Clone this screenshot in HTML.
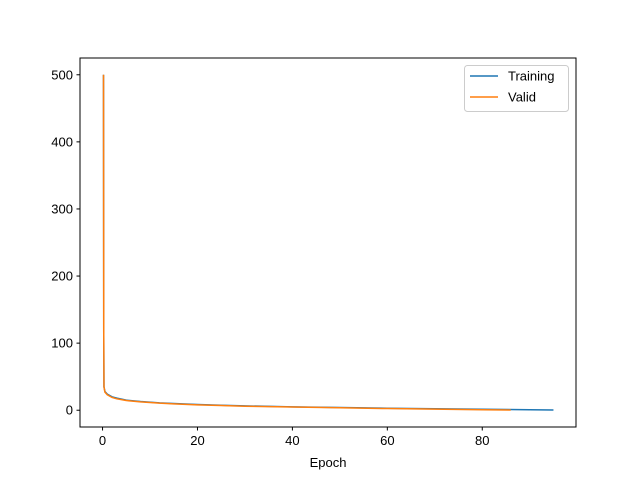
<!DOCTYPE html>
<html><head><meta charset="utf-8"><style>
body{margin:0;background:#fff;}
svg text{font-family:"Liberation Sans","DejaVu Sans",sans-serif;font-size:13px;fill:#000;}
</style></head><body>
<svg id="chart" width="640" height="480">
<rect x="0" y="0" width="640" height="480" fill="#fff"/>
<g id="plot"></g>
<rect x="80" y="58" width="496" height="369" fill="none" stroke="#000" stroke-width="1"/>
<g id="ticks"></g>
<text x="328" y="467" text-anchor="middle">Epoch</text>
<g>
<rect x="464.5" y="65.5" width="104" height="46" rx="3" fill="#fff" fill-opacity="0.8" stroke="#ccc"/>
<line x1="470" y1="76" x2="498" y2="76" stroke="#1f77b4" stroke-width="1.5"/>
<text x="508" y="80.5">Training</text>
<line x1="470" y1="97" x2="498" y2="97" stroke="#ff7f0e" stroke-width="1.5"/>
<text x="508" y="101.5">Valid</text>
</g>
</svg>
<script>
const trainX=[0.2,0.25,0.3,0.5,1,2,3,5,8,12,15,20,25,30,40,50,60,70,80,90,95];
const trainY=[500,120,35,28,24,20,18,15,13,11,10,8.5,7.5,6.5,5,4,3,2.2,1.5,0.7,0.3];
const validX=[0.2,0.25,0.3,0.5,1,2,3,5,8,12,15,20,25,30,40,50,60,70,80,86];
const validY=[500,120,35,27,23,19,17,14.5,12.5,10.5,9.5,8,7,6,4.8,3.6,2.5,1.6,0.8,0.3];
const xTicks=[0,20,40,60,80];
const yTicks=[0,100,200,300,400,500];
const X0=80,X1=576,Y0=427,Y1=58,xmin=-4.75,xmax=99.75,ymin=-25,ymax=525;
const sx=v=>X0+(v-xmin)/(xmax-xmin)*(X1-X0);
const sy=v=>Y0-(v-ymin)/(ymax-ymin)*(Y0-Y1);
const NS="http://www.w3.org/2000/svg";
const plot=document.getElementById('plot'),tk=document.getElementById('ticks');
function line(xs,ys,c,name){const p=document.createElementNS(NS,'polyline');
p.setAttribute('points',xs.map((x,i)=>sx(x)+','+sy(ys[i])).join(' '));
p.setAttribute('fill','none');p.setAttribute('stroke',c);p.setAttribute('stroke-width','1.5');


plot.appendChild(p);}
line(trainX,trainY,'#1f77b4','training-line');
line(validX,validY,'#ff7f0e','valid-line');
xTicks.forEach(v=>{const x=sx(v);
const l=document.createElementNS(NS,'line');l.setAttribute('x1',x);l.setAttribute('x2',x);l.setAttribute('y1',Y0);l.setAttribute('y2',Y0+3.5);l.setAttribute('stroke','#000');


tk.appendChild(l);
const t=document.createElementNS(NS,'text');t.setAttribute('x',x);t.setAttribute('y',Y0+18);t.setAttribute('text-anchor','middle');t.textContent=v;


tk.appendChild(t);});
yTicks.forEach(v=>{const y=sy(v);
const l=document.createElementNS(NS,'line');l.setAttribute('x1',X0-3.5);l.setAttribute('x2',X0);l.setAttribute('y1',y);l.setAttribute('y2',y);l.setAttribute('stroke','#000');


tk.appendChild(l);
const t=document.createElementNS(NS,'text');t.setAttribute('x',X0-7);t.setAttribute('y',y+4.5);t.setAttribute('text-anchor','end');t.textContent=v;


tk.appendChild(t);});
</script>
</body></html>
